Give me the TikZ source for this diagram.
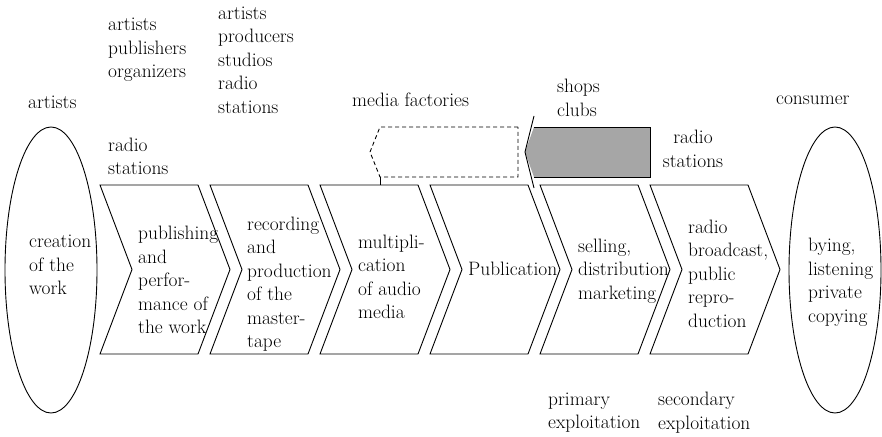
\documentclass[tikz,border=0pt]{standalone}
\usepackage{tikz}
\usetikzlibrary{positioning}
\newcommand{\lblfont}{\rmfamily\fontsize{19.4}{23.5}\selectfont}
\tikzset{lbl/.style={anchor=west, align=left, inner sep=0pt, font=\lblfont}}
\tikzstyle{stageline} = [line width=0.9pt]

\begin{document}
\begin{tikzpicture}[x=1pt,y=-1pt]
    \useasboundingbox (0,0) rectangle (882,436);

    % Ellipses at both ends
    \draw[stageline] (51,270) ellipse [x radius=46, y radius=143];
    \draw[stageline] (835,270) ellipse [x radius=46, y radius=143];

    % Chevrons of the chain
    \foreach \i in {0,...,5} {
        \pgfmathsetmacro{\xa}{100+110*\i}
        \draw[stageline] (\xa,185) -- ++(98,0) -- ++(32,84.5) -- ++(-32,84.5)
            -- ++(-98,0) -- ++(32,-84.5) -- cycle;
    }

    % Dashed arrow (media factories)
    \draw[stageline, dash pattern=on 4pt off 3pt] (518,127) -- (380,127) -- (370,152)
        -- (380,177) -- (518,177) -- cycle;
    \draw[stageline] (380,177) -- (380,185);

    % Grey arrow (shops, clubs)
    \fill[black!35] (650,127) -- (534,127) -- (525,152) -- (534,177) -- (650,177) -- cycle;
    \draw[stageline] (534,127) -- (650,127) -- (650,177) -- (534,177);
    \draw[stageline] (534,116) -- (525,152) -- (534,188);

    % Texts in the shapes
    \node[lbl] (creation) at (29,265) {creation\\of the\\work};
    \node[lbl] (publishing) at (138,280) {publishing\\and\\perfor-\\mance of\\the work};
    \node[lbl] (recording) at (247,284) {recording\\and\\production\\of the\\master-\\tape};
    \node[lbl] (multiplication) at (358,277) {multipli-\\cation\\of audio\\media};
    \node[lbl] (publication) at (468,269) {Publication};
    \node[lbl] (selling) at (578,271) {selling,\\distribution\\marketing};
    \node[lbl] (broadcast) at (688,273.5) {radio\\broadcast,\\public\\repro-\\duction};
    \node[lbl] (buying) at (808,282) {bying,\\listening\\private\\copying};

    % Actors above
    \node[lbl] (artists) at (28,102) {artists};
    \node[lbl] (publishers) at (108,50) {artists\\publishers\\organizers};
    \node[lbl] (radioa) at (108,156.5) {radio\\stations};
    \node[lbl] (producers) at (218,60) {artists\\producers\\studios\\radio\\stations};
    \node[lbl] (factories) at (352,100) {media factories};
    \node[lbl] (shops) at (557,98) {shops\\clubs};
    \node[lbl, anchor=center, align=center] (radiob) at (693,149) {radio\\stations};
    \node[lbl] (consumer) at (776,100) {consumer};

    % Exploitation below
    \node[lbl] (primary) at (548,412.5) {primary\\exploitation};
    \node[lbl] (secondary) at (658,412.5) {secondary\\exploitation};

\end{tikzpicture}
\end{document}
